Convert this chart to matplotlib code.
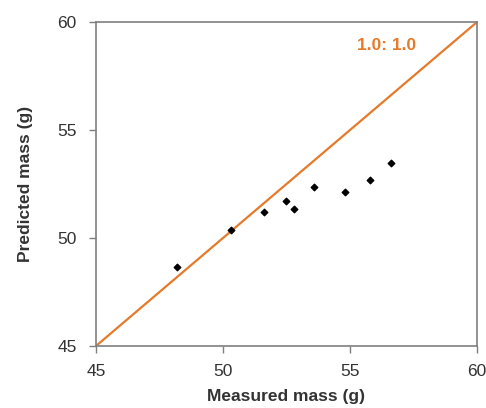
import matplotlib
matplotlib.use("Agg")
import matplotlib.pyplot as plt

plt.rcParams['font.family'] = ['Liberation Sans', 'DejaVu Sans']

measured = [48.2, 50.3, 51.6, 52.5, 52.8, 53.6, 54.8, 55.8, 56.6]
predicted = [48.65, 50.35, 51.2, 51.7, 51.35, 52.35, 52.15, 52.7, 53.45]
line_range = [45, 60]
ticks = [45, 50, 55, 60]

fig = plt.figure(figsize=(4.86, 4.08), dpi=100)
ax = fig.add_axes([0.1975, 0.152, 0.784, 0.794])
ax.plot(line_range, line_range, color='#E57A2A', lw=1.6, zorder=2)
ax.scatter(measured, predicted, s=11, color='black', marker='D', zorder=3)
ax.text(56.45, 58.9, '1.0: 1.0', color='#E57A2A', fontsize=12.5, fontweight='bold',
        ha='center', va='center')
ax.set_xlim(45, 60)
ax.set_ylim(45, 60)
ax.set_xticks(ticks)
ax.set_yticks(ticks)
for s in ax.spines.values():
    s.set_color('#7f7f7f')
    s.set_linewidth(1.2)
ax.tick_params(colors='#7f7f7f', labelcolor='#333333', labelsize=12.5, length=5, width=1)
ax.tick_params(axis='y', pad=9)
ax.tick_params(axis='x', pad=8)
ax.set_xlabel('Measured mass (g)', fontsize=12.5, fontweight='bold', color='#333333', labelpad=7)
ax.set_ylabel('Predicted mass (g)', fontsize=12.5, fontweight='bold', color='#333333', labelpad=17)
fig.savefig('out.png', dpi=100)
